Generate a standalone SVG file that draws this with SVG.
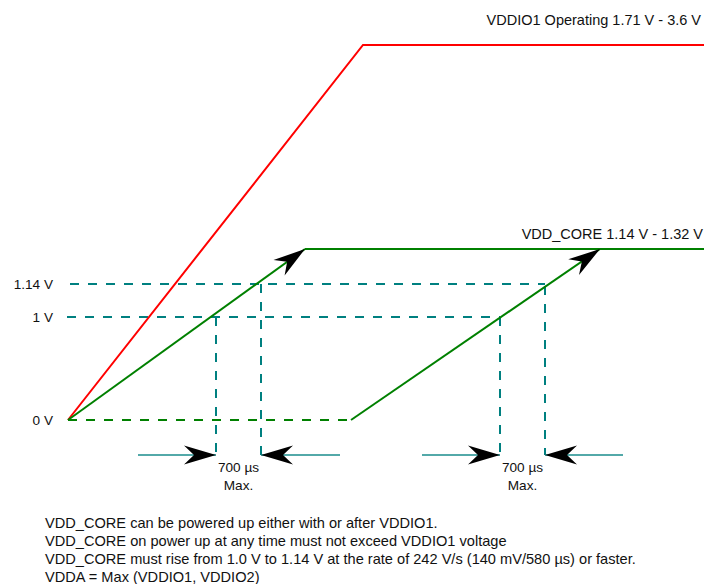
<svg xmlns="http://www.w3.org/2000/svg" width="704" height="584" viewBox="0 0 704 584">
<style>
text{font-family:"Liberation Sans",Arial,sans-serif;fill:#111}
.big{font-size:14.5px}
.note{font-size:14.6px}
.lbl{font-size:13.6px}
.red{stroke:#ff0000;stroke-width:2;fill:none}
.grn{stroke:#008000;stroke-width:2;fill:none}
.gdash{stroke:#008000;stroke-width:2;fill:none;stroke-dasharray:9 9}
.tdash{stroke:#008080;stroke-width:2;fill:none;stroke-dasharray:9 9}
.tarr{stroke:#1a8c8c;stroke-width:1.6;fill:none}
</style>
<defs>
<marker id="ah" markerUnits="userSpaceOnUse" viewBox="-33 -11 34 22" refX="0" refY="0" markerWidth="34" markerHeight="22" orient="auto">
<path d="M0,0 L-32,-9.5 L-22,0 L-32,9.5 Z" fill="#000"/>
</marker>
</defs>
<rect width="704" height="584" fill="#fff"/>
<g id="guides">
<path class="tdash" d="M70,284 H545"/>
<path class="tdash" d="M67,317 H500"/>
<path class="tdash" d="M216,317 V455"/>
<path class="tdash" d="M261,284 V455"/>
<path class="tdash" d="M500,317 V455"/>
<path class="tdash" d="M545,286 V455"/>
</g>
<g id="connectors">
<path id="vddio1" class="red" d="M68,420 L363,45 H704"/>
<path class="grn" d="M305,249 H704"/>
<path class="grn" d="M68,420 L305,249" marker-end="url(#ah)"/>
<path class="gdash" d="M68,420 H352"/>
<path class="grn" d="M351,420 L600,249" marker-end="url(#ah)"/>
<path class="tarr" d="M138,455 H216" marker-end="url(#ah)"/>
<path class="tarr" d="M340,455 H261" marker-end="url(#ah)"/>
<path class="tarr" d="M422,455 H500" marker-end="url(#ah)"/>
<path class="tarr" d="M623,455 H545" marker-end="url(#ah)"/>
</g>
<g id="labels">
<text class="big" x="701" y="24.5" text-anchor="end">VDDIO1 Operating 1.71 V - 3.6 V</text>
<text class="big" x="703" y="239" text-anchor="end">VDD_CORE 1.14 V - 1.32 V</text>
<text class="lbl" x="53" y="289" text-anchor="end">1.14 V</text>
<text class="lbl" x="53" y="322" text-anchor="end">1 V</text>
<text class="lbl" x="53" y="425" text-anchor="end">0 V</text>
<text class="lbl" x="238.5" y="471.5" text-anchor="middle">700 µs</text>
<text class="lbl" x="238.5" y="490" text-anchor="middle">Max.</text>
<text class="lbl" x="522.5" y="471.5" text-anchor="middle">700 µs</text>
<text class="lbl" x="522.5" y="490" text-anchor="middle">Max.</text>
</g>
<g id="notes" class="note">
<text x="45" y="527.5">VDD_CORE can be powered up either with or after VDDIO1.</text>
<text x="45" y="545.5">VDD_CORE on power up at any time must not exceed VDDIO1 voltage</text>
<text x="45" y="563.7">VDD_CORE must rise from 1.0 V to 1.14 V at the rate of 242 V/s (140 mV/580 µs) or faster.</text>
<text x="45" y="582">VDDA = Max (VDDIO1, VDDIO2)</text>
</g>
</svg>
